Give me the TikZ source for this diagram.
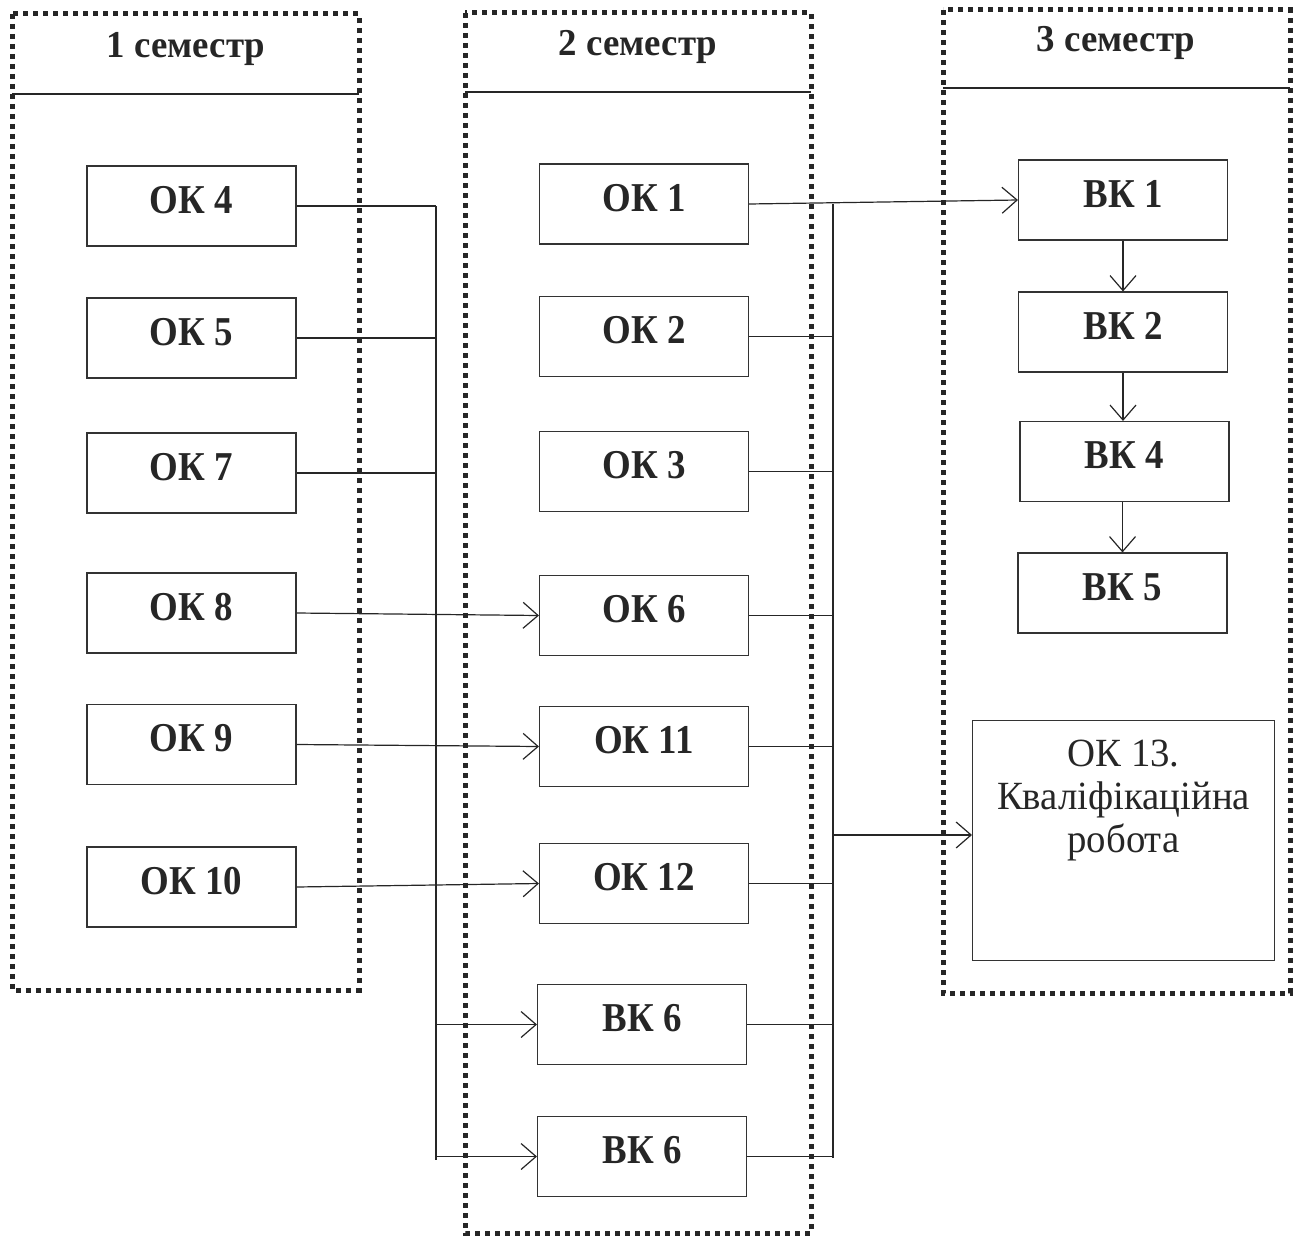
\documentclass[tikz,border=0pt]{standalone}
\usepackage{fontspec}
\setmainfont{Liberation Serif}
\newfontfamily\boxfont[FakeStretch=0.9]{Liberation Serif}
\newfontfamily\headfont[FakeStretch=0.97]{Liberation Serif}
\usetikzlibrary{arrows.meta}
\begin{document}
\begin{tikzpicture}[x=1pt,y=-1pt,
  frame/.style={draw=black!85, line width=5pt, dash pattern=on 5pt off 5pt},
  hline/.style={draw=black!85, line width=1.3pt},
  box/.style={draw=black!80, line width=1.1pt, minimum width=209pt, minimum height=80pt,
    inner sep=0pt, text height=28pt, text depth=14pt, text=black!85,
    font=\boxfont\bfseries\fontsize{41}{48}\selectfont},
  head/.style={inner sep=0pt, text=black!85, font=\headfont\bfseries\fontsize{38}{46}\selectfont},
  conn/.style={draw=black!85, line width=1.2pt},
  arr/.style={conn, -{Straight Barb[length=15pt,width=26pt,line width=1.2pt]}}
]
\useasboundingbox (0,0) rectangle (1293,1236);
% frames
\draw[frame] (12,14) rectangle (359,990);
\draw[frame] (465,13) rectangle (811,1233);
\draw[frame] (943,10) rectangle (1290,993);
\draw[hline] (12,94) -- (359,94);
\draw[hline] (465,92) -- (811,92);
\draw[hline] (943,88) -- (1290,88);
\node[head] (h1) at (186,49) {1 семестр};
\node[head] (h2) at (638,47) {2 семестр};
\node[head] (h3) at (1116,43) {3 семестр};
% column 1
\node[box] (ok4) at (191.5,206) {ОК 4};
\node[box] (ok5) at (191.5,338) {ОК 5};
\node[box] (ok7) at (191.5,473) {ОК 7};
\node[box] (ok8) at (191.5,613) {ОК 8};
\node[box] (ok9) at (191.5,744.5) {ОК 9};
\node[box] (ok10) at (191.5,887) {ОК 10};
% column 2
\node[box] (ok1) at (644,204) {ОК 1};
\node[box] (ok2) at (644,336.5) {ОК 2};
\node[box] (ok3) at (644,471.5) {ОК 3};
\node[box] (ok6) at (644,615.5) {ОК 6};
\node[box] (ok11) at (644,746.5) {ОК 11};
\node[box] (ok12) at (644,883.5) {ОК 12};
\node[box] (vk6a) at (642,1024.5) {ВК 6};
\node[box] (vk6b) at (642,1156.5) {ВК 6};
% column 3
\node[box] (vk1) at (1123,200) {ВК 1};
\node[box] (vk2) at (1123,332) {ВК 2};
\node[box] (vk4) at (1124.5,461.5) {ВК 4};
\node[box] (vk5) at (1122.5,593) {ВК 5};
\node[draw=black!80, line width=1.1pt, minimum width=302pt, minimum height=240pt, inner sep=0pt,
  text=black!85, align=center, anchor=north west,
  font=\headfont\fontsize{40}{43}\selectfont] (ok13) at (972,720)
  {\rule{0pt}{0pt}\\[-16pt]ОК 13.\\Кваліфікаційна\\робота\\[46pt]};
% buses
\coordinate (lt) at (436,206);
\coordinate (lb) at (436,1160);
\coordinate (rt) at (833,204);
\coordinate (rb) at (833,1158);
\draw[conn] (lt) -- (lb);
\draw[conn] (rt) -- (rb);
% left connections
\draw[conn] (ok4.east) -- (ok4.east -| lt);
\draw[conn] (ok5.east) -- (ok5.east -| lt);
\draw[conn] (ok7.east) -- (ok7.east -| lt);
\draw[arr] (ok8.east) -- (ok6.west);
\draw[arr] (ok9.east) -- (ok11.west);
\draw[arr] (ok10.east) -- (ok12.west);
\draw[arr] (vk6a.west -| lt) -- (vk6a.west);
\draw[arr] (vk6b.west -| lt) -- (vk6b.west);
% right connections
\draw[arr] (ok1.east) -- (vk1.west);
\draw[conn] (ok2.east) -- (ok2.east -| rt);
\draw[conn] (ok3.east) -- (ok3.east -| rt);
\draw[conn] (ok6.east) -- (ok6.east -| rt);
\draw[conn] (ok11.east) -- (ok11.east -| rt);
\draw[conn] (ok12.east) -- (ok12.east -| rt);
\draw[conn] (vk6a.east) -- (vk6a.east -| rt);
\draw[conn] (vk6b.east) -- (vk6b.east -| rt);
\coordinate (r13) at (833,835);
\draw[arr] (r13) -- (r13 -| ok13.west);
% column 3 chain
\draw[arr] (vk1.south) -- (vk2.north);
\draw[arr] (vk2.south) -- (vk4.north -| vk2.south);
\draw[arr] (vk4.south -| vk5.north) -- (vk5.north);
\end{tikzpicture}
\end{document}
